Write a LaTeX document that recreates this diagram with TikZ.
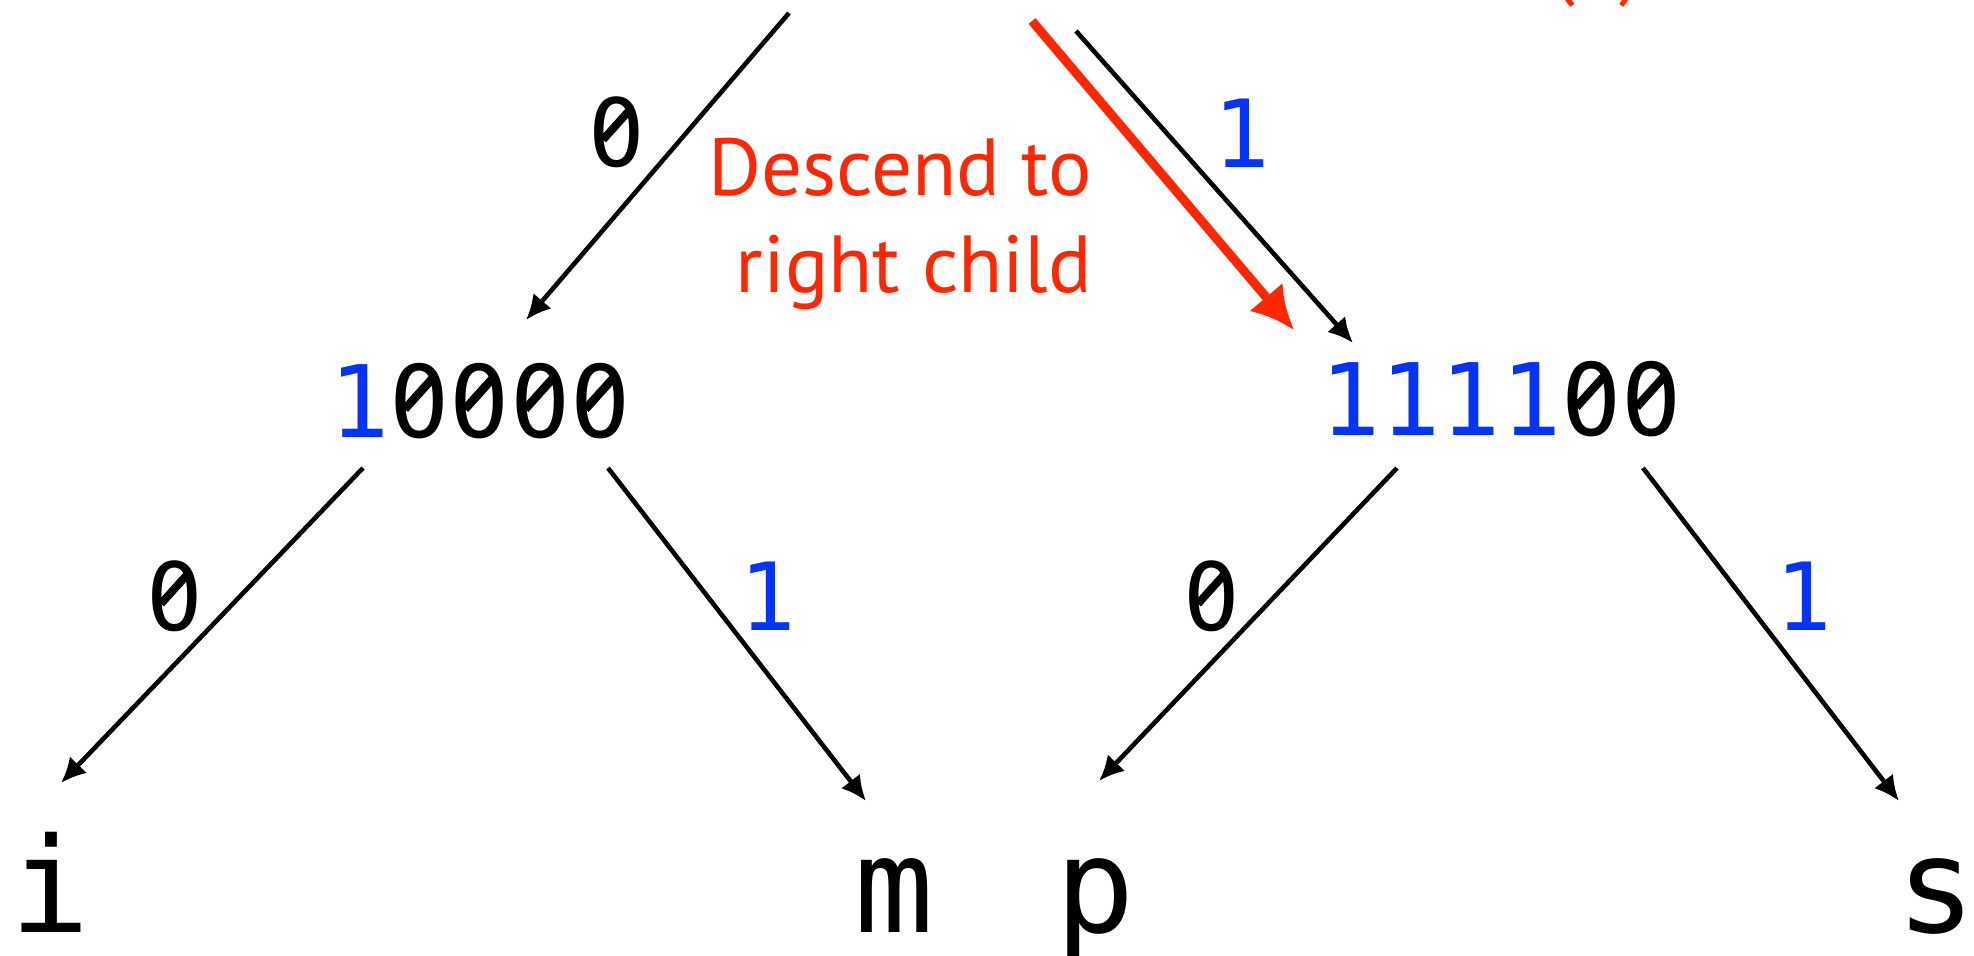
\documentclass[tikz,border=0pt]{standalone}
\usepackage{fontspec}
\usepackage{graphicx}
\usetikzlibrary{arrows.meta,calc}
\newfontfamily\monofnt{DejaVu Sans Mono}
\newfontfamily\sansfnt{PT Sans}
\definecolor{myblue}{HTML}{0433FF}
\definecolor{myred}{HTML}{FF2600}
% slashed zero built from DejaVu Sans Mono's dotted zero
\newcommand\zs{\makebox[0.602em][l]{\rlap{0}\rlap{\hspace{0.226em}\raisebox{0.25em}{\textcolor{white}{\rule{0.15em}{0.23em}}}}\hspace{0.12em}\raisebox{0.251em}{\rotatebox{48}{\rule{0.46em}{0.085em}}}}}
\begin{document}
\begin{tikzpicture}[x=1pt,y=-1pt,
  code/.style={font=\monofnt\fontsize{100}{100}\selectfont, inner sep=0pt, anchor=base},
  leaf/.style={font=\monofnt\fontsize{132}{132}\selectfont, inner sep=0pt, anchor=base},
  lbl/.style={font=\monofnt\fontsize{94}{94}\selectfont, inner sep=0pt, anchor=base},
  arr/.style={draw=black, line width=4.6pt, -{Latex[length=25pt,width=24pt]}},
  redarr/.style={draw=myred, line width=9pt, -{Latex[length=43pt,width=44pt]}},
  note/.style={font=\sansfnt\fontsize{81}{97}\selectfont, text=myred, inner sep=0pt, anchor=base east}
]
\useasboundingbox (0,0) rectangle (1974,956);
\node[code] (a) at (480,437) {\textcolor{myblue}{1}\zs\zs\zs\zs};
\node[code] (b) at (1501,435) {\textcolor{myblue}{1111}\zs\zs};
\node[leaf] (i) at (50,932) {i};
\node[leaf] (m) at (894,932) {m};
\node[leaf] (p) at (1095,932) {p};
\node[leaf] (s) at (1936,932) {s};
\coordinate (r0) at (789,13);
\coordinate (r1) at (1076,31);
\coordinate (r2) at (1032,21);
\node[note] (t1) at (1092,195) {Descend to};
\node[note] (t2) at (1092,292) {right child};
\node[note, anchor=base] (t0) at (1597,-11) {(1)};
\node[lbl] (l1) at (617,166) {\zs};
\node[lbl, text=myblue] (l2) at (1242,167) {1};
\node[lbl] (l3) at (175,630) {\zs};
\node[lbl, text=myblue] (l4) at (768,630) {1};
\node[lbl] (l5) at (1212,630) {\zs};
\node[lbl, text=myblue] (l6) at (1804,630) {1};
\draw[arr] (r0) -- ($(a.base)+(46,-117)$);
\draw[arr] (r1) -- ($(b.base)+(-148,-92)$);
\draw[redarr] (r2) -- ($(b.base)+(-207,-105)$);
\draw[arr] ($(a.base)+(-117,31)$) -- ($(i.base)+(11,-149)$);
\draw[arr] ($(a.base)+(128,31)$) -- ($(m.base)+(-28,-131)$);
\draw[arr] ($(b.base)+(-104,33)$) -- ($(p.base)+(4,-151)$);
\draw[arr] ($(b.base)+(142,33)$) -- ($(s.base)+(-37,-131)$);
\end{tikzpicture}
\end{document}
